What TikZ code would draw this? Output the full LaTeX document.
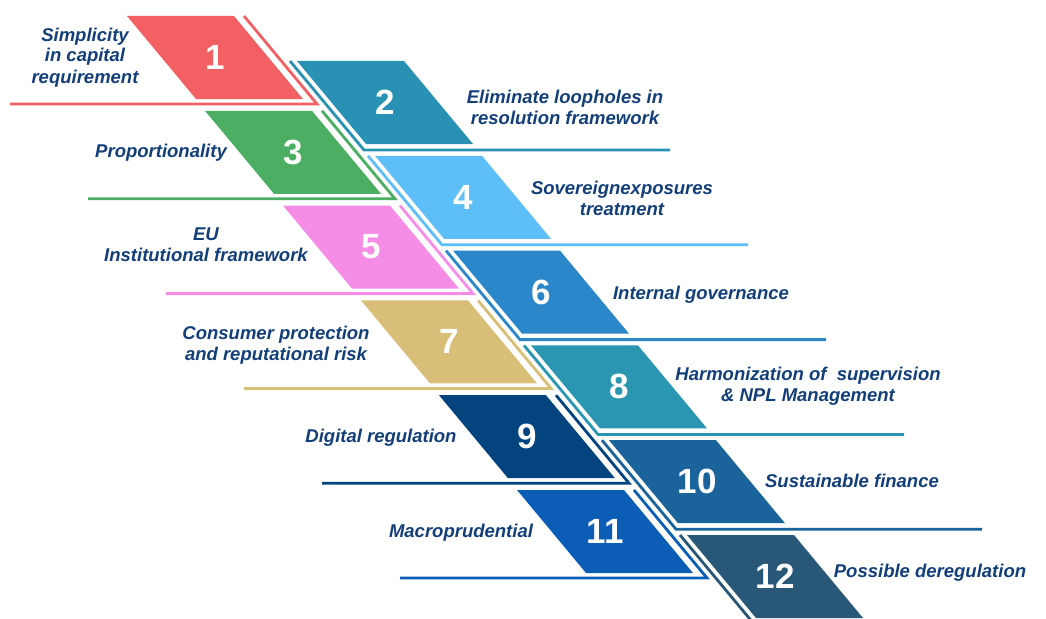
\documentclass[tikz,border=0pt]{standalone}
\usepackage{fontspec}
\setmainfont{Liberation Sans}
\usepackage{xcolor}
\usepackage{tikz}

\definecolor{txtblue}{RGB}{18,62,122}
\definecolor{colA}{RGB}{242,96,100}
\definecolor{colB}{RGB}{41,146,180}
\definecolor{colC}{RGB}{75,174,99}
\definecolor{colD}{RGB}{94,190,248}
\definecolor{colE}{RGB}{245,141,230}
\definecolor{colF}{RGB}{43,135,202}
\definecolor{colG}{RGB}{216,190,119}
\definecolor{colH}{RGB}{42,150,178}
\definecolor{colI}{RGB}{3,67,126}
\definecolor{colJ}{RGB}{26,99,155}
\definecolor{colK}{RGB}{12,93,181}
\definecolor{colL}{RGB}{40,87,119}

\begin{document}
\begin{tikzpicture}[x=1pt, y=-1pt,
    num/.style={text=white, font=\fontsize{35}{35}\selectfont\bfseries},
    lab/.style={text=txtblue, font=\fontsize{18.5}{21}\selectfont\bfseries\itshape, align=center, anchor=base}]
    \useasboundingbox (0,0) rectangle (1046,618);
    \clip (0,0) rectangle (1046,618);

    % Left column: blocks 1, 3, 5, 7, 9, 11
    \foreach \n/\c [count=\k from 0] in {1/colA,3/colC,5/colE,7/colG,9/colI,11/colK} {
        \pgfmathsetmacro{\xa}{127+78*\k}
        \pgfmathsetmacro{\ya}{16+94.8*\k}
        \fill[\c] (\xa,\ya) -- ++(107,0) -- ++(69,83) -- ++(-107,0) -- cycle;
        \node[num] (n\n) at (\xa+88,\ya+41.5) {\n};
        % rule along the right edge, then back under the label
        \draw[\c, line width=2.8pt] (\xa+117,\ya) -- ++(73,88) -- (\xa-117,\ya+88);
    }

    % Right column: blocks 2, 4, 6, 8, 10, 12
    \foreach \n/\c [count=\k from 0] in {2/colB,4/colD,6/colF,8/colH,10/colJ,12/colL} {
        \pgfmathsetmacro{\xb}{297+78*\k}
        \pgfmathsetmacro{\yb}{61+94.8*\k}
        \fill[\c] (\xb,\yb) -- ++(107,0) -- ++(69,83) -- ++(-107,0) -- cycle;
        \node[num] (n\n) at (\xb+88,\yb+41.5) {\n};
        % rule along the left edge, then out under the label
        \draw[\c, line width=2.8pt] (\xb-7,\yb) -- ++(74,89) -- (\xb+373,\yb+89);
    }

    % Labels (base = last line)
    \node[lab] (t1) at (85,83) {Simplicity\\in capital\\requirement};
    \node[lab] (t2) at (565,124) {Eliminate loopholes in\\resolution framework};
    \node[lab] (t3) at (161,157) {Proportionality};
    \node[lab] (t4) at (622,215) {Sovereignexposures\\treatment};
    \node[lab] (t5) at (206,261) {EU\\Institutional framework};
    \node[lab] (t6) at (701,299) {Internal governance};
    \node[lab] (t7) at (276,360) {Consumer protection\\and reputational risk};
    \node[lab] (t8) at (808,401) {Harmonization of\ \ supervision\\\& NPL Management};
    \node[lab] (t9) at (381,442) {Digital regulation};
    \node[lab] (t10) at (852,487) {Sustainable finance};
    \node[lab] (t11) at (461,537) {Macroprudential};
    \node[lab] (t12) at (930,577) {Possible deregulation};
\end{tikzpicture}
\end{document}
